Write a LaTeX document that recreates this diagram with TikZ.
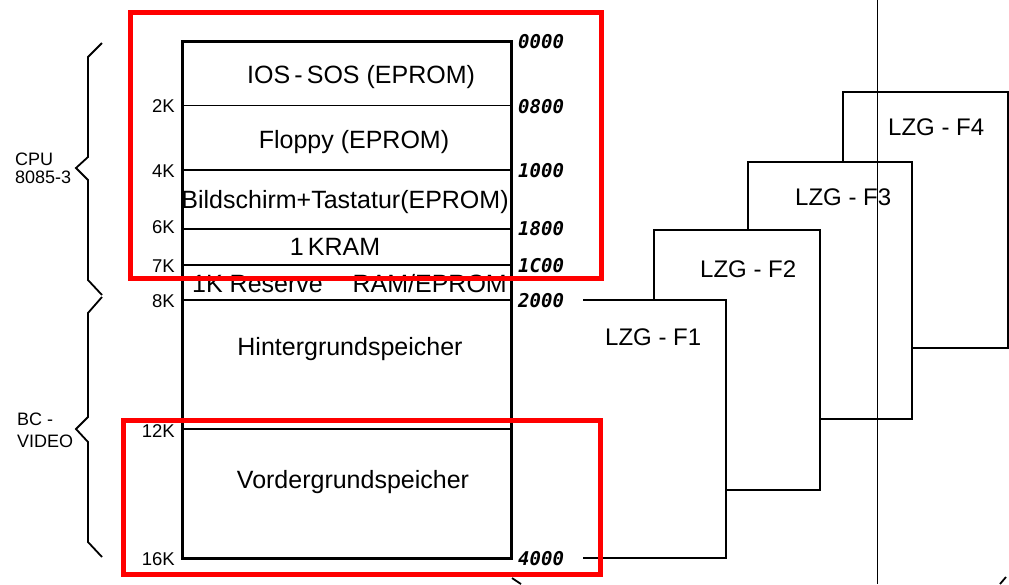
\documentclass[tikz,border=0pt]{standalone}
\usepackage{fontspec}
\setmainfont{Liberation Sans}
\setmonofont{DejaVu Sans Mono}
\begin{document}
\begin{tikzpicture}[x=1pt,y=-1pt,
  colframe/.style={line width=3pt},
  divider/.style={line width=1.8pt},
  lzgbox/.style={line width=2.8pt,fill=white},
  bracepath/.style={line width=1.8pt,line join=miter},
  redbox/.style={draw=red,line width=5pt},
  memtext/.style={inner sep=0pt,anchor=base,font=\fontsize{25}{30}\selectfont},
  klabel/.style={inner sep=0pt,anchor=base east,font=\fontsize{18.5}{21}\selectfont},
  addr/.style={inner sep=0pt,anchor=base west,font=\fontsize{19}{22}\selectfont\ttfamily\bfseries\itshape},
  lzgtext/.style={inner sep=0pt,anchor=base west,font=\fontsize{24}{28}\selectfont},
  bracelabel/.style={inner sep=0pt,anchor=base west,font=\fontsize{18}{21}\selectfont}]
\useasboundingbox (0,0) rectangle (1009,584);
\fill[white] (0,0) rectangle (1009,584);

% LZG boxes, back to front
\draw[lzgbox] (843,92) rectangle (1008,348);
\draw[lzgbox] (748,162) rectangle (912,419);
\draw[lzgbox] (654,230) rectangle (820,490);
\filldraw[lzgbox] (583,300) -- (726,300) -- (726,558) -- (583,558);

% memory column
\draw[colframe] (182,41.5) rectangle (511.5,558);
\foreach \yy in {105.5,170,229,265,300,429}
  \draw[divider] (182,\yy) -- (511.5,\yy);

% memory texts
\node[memtext] (ios) at (361,83) {IOS\,-\,SOS (EPROM)};
\node[memtext] (floppy) at (354,148) {Floppy (EPROM)};
\node[memtext] (bild) at (345,208) {Bildschirm+Tastatur(EPROM)};
\node[memtext] (kram) at (335,255) {1\,KRAM};
\node[memtext,anchor=base west] (res1) at (192,292) {1K Reserve};
\node[memtext,anchor=base east] (res2) at (507,292) {RAM/EPROM};
\node[memtext] (hinter) at (350,355) {Hintergrundspeicher};
\node[memtext] (vorder) at (353,488) {Vordergrundspeicher};

% K labels
\node[klabel] (k2) at (175,112) {2K};
\node[klabel] (k4) at (175,177) {4K};
\node[klabel] (k6) at (175,233) {6K};
\node[klabel] (k7) at (175,272) {7K};
\node[klabel] (k8) at (175,307) {8K};
\node[klabel] (k12) at (175,437) {12K};
\node[klabel] (k16) at (175,565) {16K};

% addresses
\node[addr] (a0000) at (518,48) {0000};
\node[addr] (a0800) at (518,113) {0800};
\node[addr] (a1000) at (518,177) {1000};
\node[addr] (a1800) at (518,235) {1800};
\node[addr] (a1c00) at (518,272) {1C00};
\node[addr] (a2000) at (518,307) {2000};
\node[addr] (a4000) at (518,565) {4000};

% LZG labels
\node[lzgtext] (f4) at (888,135) {LZG - F4};
\node[lzgtext] (f3) at (795,205) {LZG - F3};
\node[lzgtext] (f2) at (700,277) {LZG - F2};
\node[lzgtext] (f1) at (605,345) {LZG - F1};

% braces
\draw[bracepath] (102,43) -- (88,57) -- (88,157) -- (76,168) -- (88,180) -- (88,280) -- (102,295);
\draw[bracepath] (102,297) -- (88,313) -- (88,417) -- (76,429) -- (88,442) -- (88,542) -- (102,557);
\node[bracelabel] (cpu) at (15,165) {CPU};
\node[bracelabel] (cpun) at (15,183) {8085-3};
\node[bracelabel] (bc) at (17,425) {BC -};
\node[bracelabel] (video) at (17,447) {VIDEO};

% thin vertical line
\draw[line width=0.9pt] (877,0) -- (877,584);

% fragments at the bottom edge
\draw[line width=1.8pt] (512,578) -- (521,584);
\draw[line width=1.8pt] (1000,584) -- (1006,577);

% red highlight rectangles
\draw[redbox] (130.5,12.5) rectangle (601.5,278);
\draw[redbox] (123.5,420) rectangle (600,574.5);
\end{tikzpicture}
\end{document}
